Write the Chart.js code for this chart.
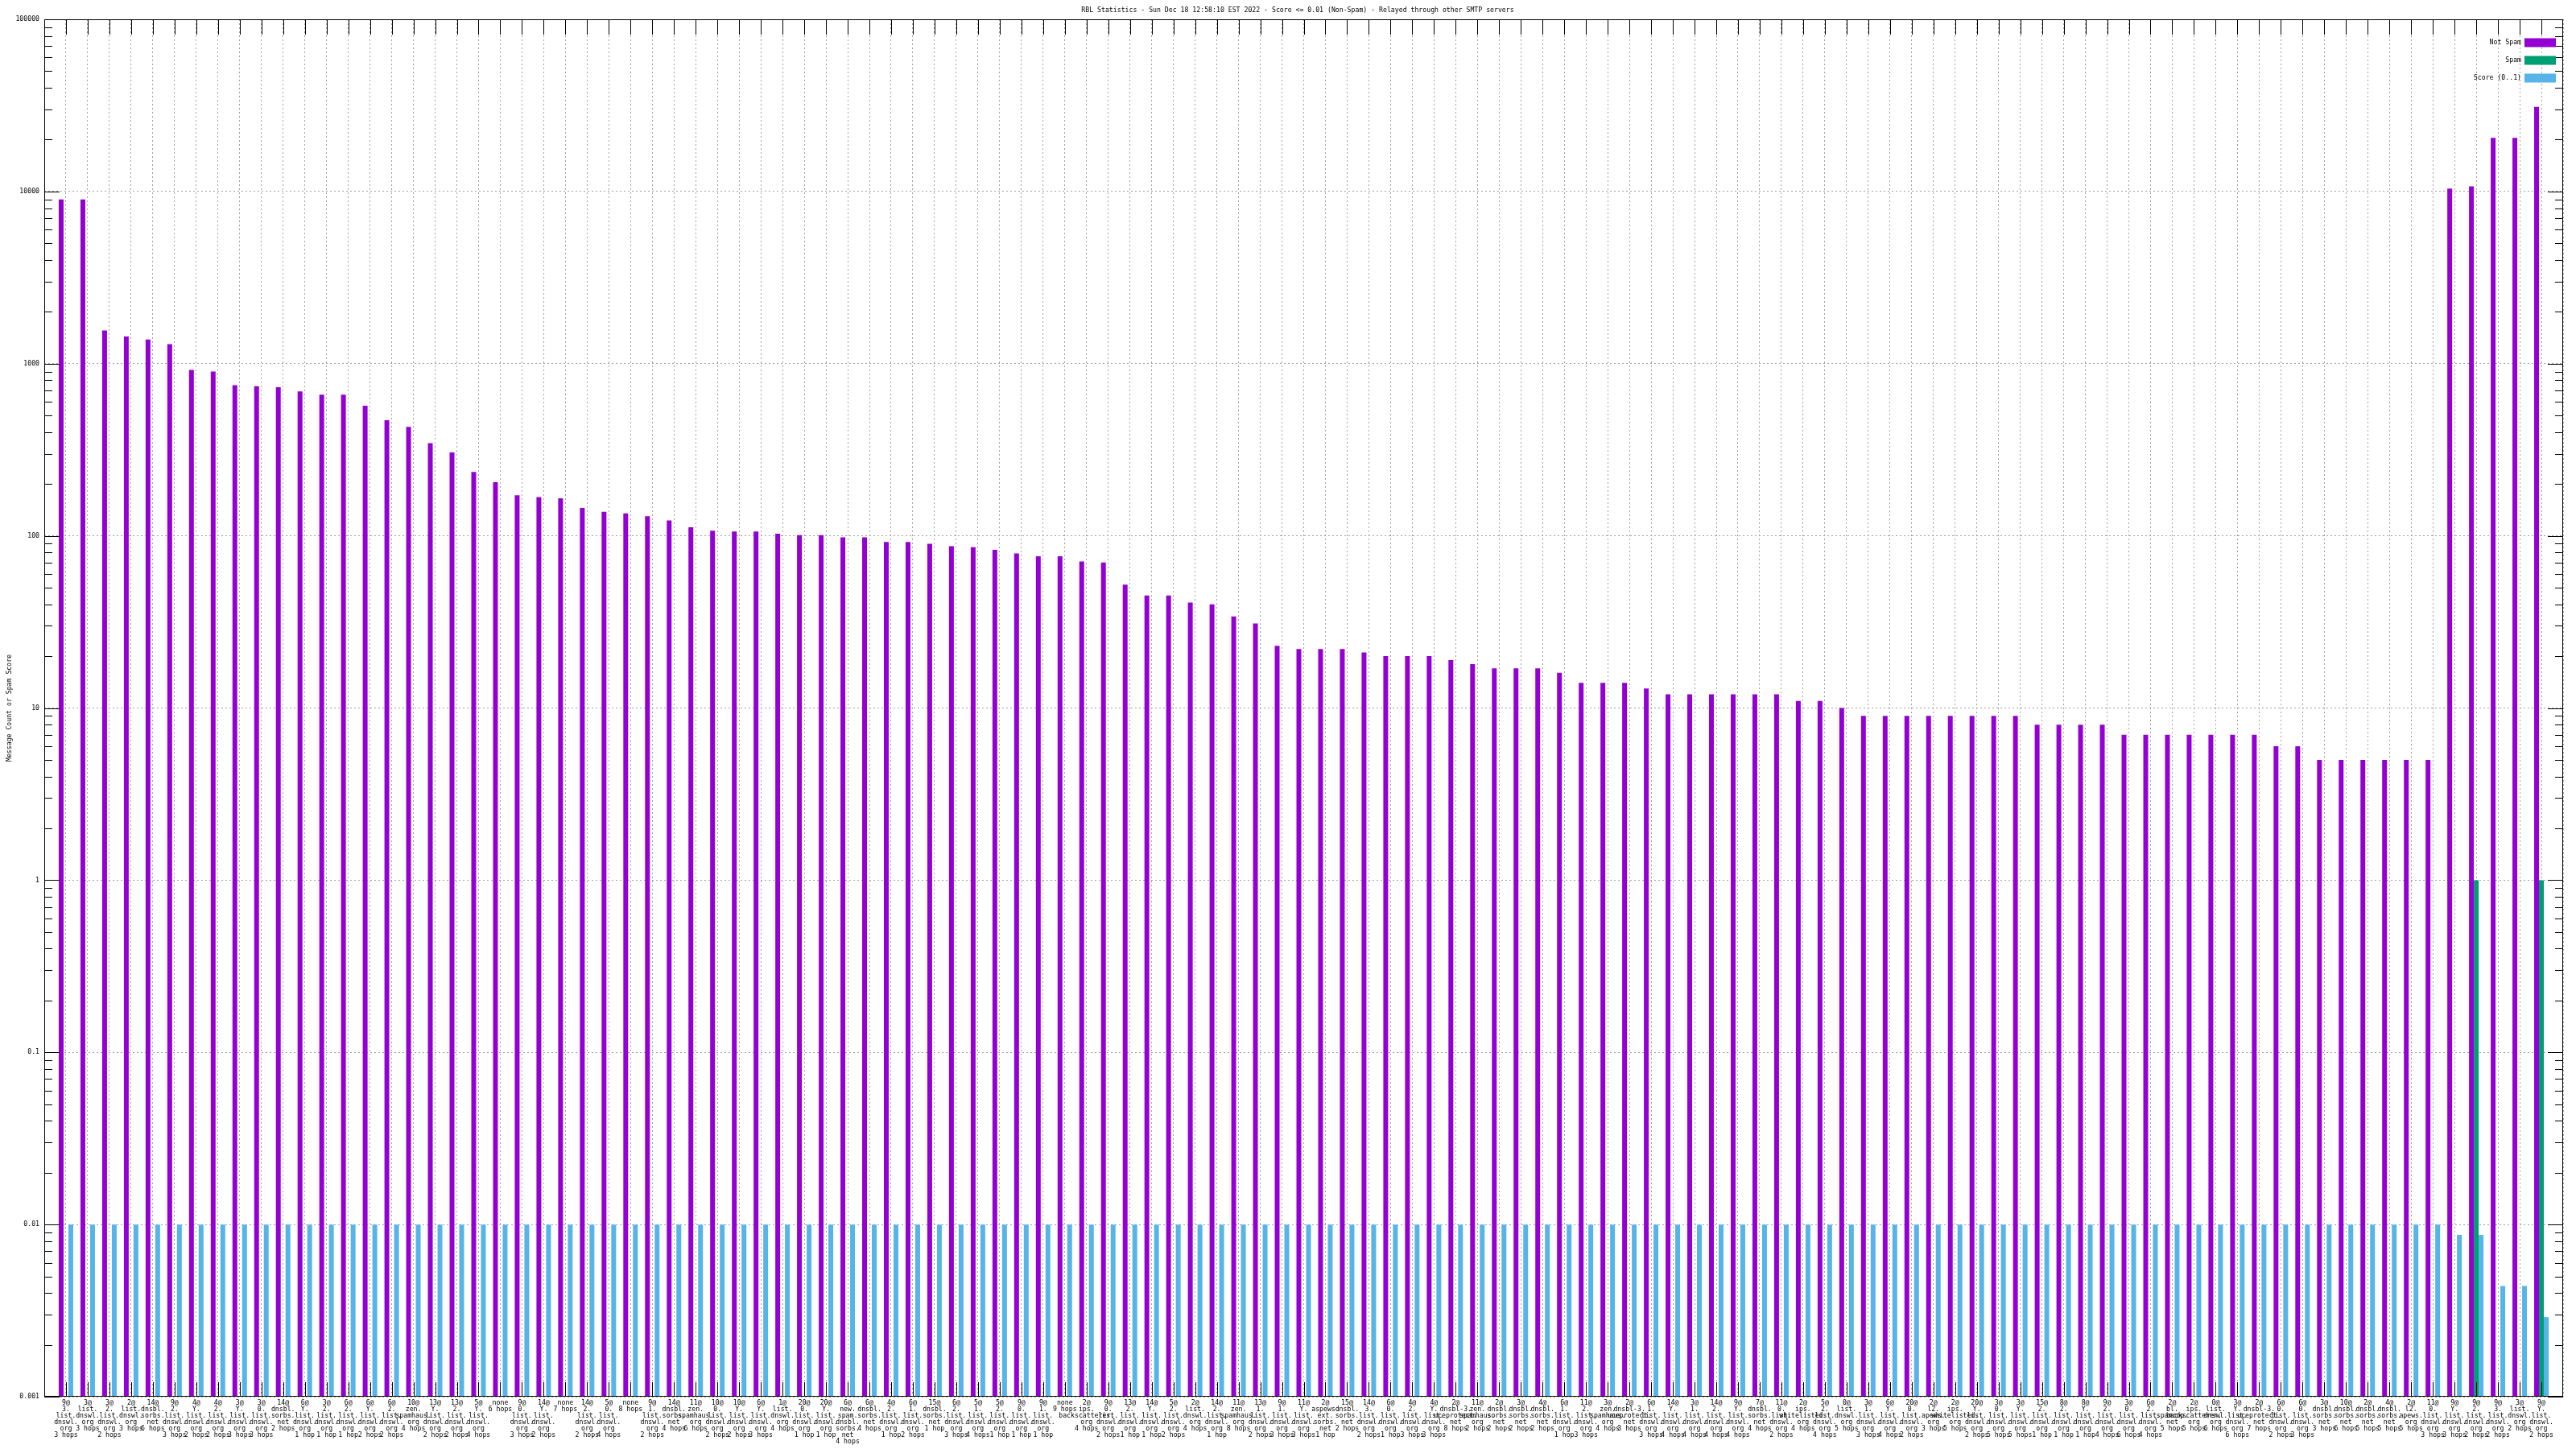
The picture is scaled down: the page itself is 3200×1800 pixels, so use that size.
<!DOCTYPE html>
<html>
<head>
<meta charset="utf-8">
<script src="https://cdn.jsdelivr.net/npm/chart.js@4.4.1/dist/chart.umd.min.js"></script>
<style>html,body{margin:0;padding:0;background:#fff;}canvas{display:block;}</style>
</head>
<body>
<canvas id="c" width="3200" height="1800"></canvas>
<script>
const titleText = "RBL Statistics - Sun Dec 18 12:58:10 EST 2022 - Score <= 0.01 (Non-Spam) - Relayed through other SMTP servers";
const yAxisTitle = "Message Count or Spam Score";
const seriesNames = ["Not Spam", "Spam", "Score (0..1)"];
const seriesColors = ["#9400d3", "#009e73", "#56b4e9"];
const yTickValues = [0.001, 0.01, 0.1, 1, 10, 100, 1000, 10000, 100000];

const categories = [
  ["9@","3.","list.","dnswl.","org","3 hops"],
  ["3@","list.","dnswl.","org","3 hops"],
  ["3@","2.","list.","dnswl.","org","2 hops"],
  ["2@","list.","dnswl.","org","3 hops"],
  ["14@","dnsbl.","sorbs.","net","6 hops"],
  ["9@","2.","list.","dnswl.","org","3 hops"],
  ["4@","Y.","list.","dnswl.","org","2 hops"],
  ["4@","2.","list.","dnswl.","org","2 hops"],
  ["3@","Y.","list.","dnswl.","org","3 hops"],
  ["3@","0.","list.","dnswl.","org","3 hops"],
  ["14@","dnsbl.","sorbs.","net","2 hops"],
  ["6@","Y.","list.","dnswl.","org","1 hop"],
  ["3@","2.","list.","dnswl.","org","1 hop"],
  ["6@","2.","list.","dnswl.","org","1 hop"],
  ["6@","Y.","list.","dnswl.","org","2 hops"],
  ["6@","2.","list.","dnswl.","org","2 hops"],
  ["10@","zen.","spamhaus.","org","4 hops"],
  ["13@","Y.","list.","dnswl.","org","2 hops"],
  ["13@","2.","list.","dnswl.","org","2 hops"],
  ["5@","Y.","list.","dnswl.","org","4 hops"],
  ["none","6 hops"],
  ["9@","0.","list.","dnswl.","org","3 hops"],
  ["14@","Y.","list.","dnswl.","org","2 hops"],
  ["none","7 hops"],
  ["14@","2.","list.","dnswl.","org","2 hops"],
  ["5@","0.","list.","dnswl.","org","4 hops"],
  ["none","8 hops"],
  ["9@","1.","list.","dnswl.","org","2 hops"],
  ["14@","dnsbl.","sorbs.","net","4 hops"],
  ["11@","zen.","spamhaus.","org","6 hops"],
  ["10@","0.","list.","dnswl.","org","2 hops"],
  ["10@","Y.","list.","dnswl.","org","2 hops"],
  ["6@","Y.","list.","dnswl.","org","3 hops"],
  ["1@","list.","dnswl.","org","4 hops"],
  ["20@","0.","list.","dnswl.","org","1 hop"],
  ["20@","Y.","list.","dnswl.","org","1 hop"],
  ["6@","new.","spam.","dnsbl.","sorbs.","net","4 hops"],
  ["6@","dnsbl.","sorbs.","net","4 hops"],
  ["4@","2.","list.","dnswl.","org","1 hop"],
  ["6@","1.","list.","dnswl.","org","2 hops"],
  ["15@","dnsbl.","sorbs.","net","1 hop"],
  ["6@","2.","list.","dnswl.","org","3 hops"],
  ["5@","1.","list.","dnswl.","org","4 hops"],
  ["5@","2.","list.","dnswl.","org","1 hop"],
  ["9@","0.","list.","dnswl.","org","1 hop"],
  ["9@","1.","list.","dnswl.","org","1 hop"],
  ["none","9 hops"],
  ["2@","ips.","backscatterer.","org","4 hops"],
  ["9@","0.","list.","dnswl.","org","2 hops"],
  ["13@","2.","list.","dnswl.","org","1 hop"],
  ["14@","Y.","list.","dnswl.","org","1 hop"],
  ["5@","2.","list.","dnswl.","org","2 hops"],
  ["2@","list.","dnswl.","org","4 hops"],
  ["14@","2.","list.","dnswl.","org","1 hop"],
  ["11@","zen.","spamhaus.","org","8 hops"],
  ["13@","1.","list.","dnswl.","org","2 hops"],
  ["9@","1.","list.","dnswl.","org","3 hops"],
  ["11@","Y.","list.","dnswl.","org","3 hops"],
  ["2@","aspews.","ext.","sorbs.","net","1 hop"],
  ["15@","dnsbl.","sorbs.","net","2 hops"],
  ["14@","3.","list.","dnswl.","org","2 hops"],
  ["6@","0.","list.","dnswl.","org","1 hop"],
  ["4@","2.","list.","dnswl.","org","3 hops"],
  ["4@","Y.","list.","dnswl.","org","3 hops"],
  ["2@","dnsbl-3.","uceprotect.","net","8 hops"],
  ["11@","zen.","spamhaus.","org","2 hops"],
  ["2@","dnsbl.","sorbs.","net","2 hops"],
  ["3@","dnsbl.","sorbs.","net","2 hops"],
  ["4@","dnsbl.","sorbs.","net","2 hops"],
  ["6@","1.","list.","dnswl.","org","1 hop"],
  ["11@","2.","list.","dnswl.","org","3 hops"],
  ["3@","zen.","spamhaus.","org","4 hops"],
  ["2@","dnsbl-3.","uceprotect.","net","3 hops"],
  ["6@","1.","list.","dnswl.","org","3 hops"],
  ["14@","Y.","list.","dnswl.","org","4 hops"],
  ["3@","1.","list.","dnswl.","org","4 hops"],
  ["14@","2.","list.","dnswl.","org","4 hops"],
  ["9@","Y.","list.","dnswl.","org","4 hops"],
  ["7@","dnsbl.","sorbs.","net","4 hops"],
  ["11@","0.","list.","dnswl.","org","2 hops"],
  ["2@","ips.","whitelisted.","org","4 hops"],
  ["5@","2.","list.","dnswl.","org","4 hops"],
  ["0@","list.","dnswl.","org","5 hops"],
  ["3@","1.","list.","dnswl.","org","3 hops"],
  ["6@","Y.","list.","dnswl.","org","4 hops"],
  ["20@","0.","list.","dnswl.","org","2 hops"],
  ["2@","l2.","apews.","org","3 hops"],
  ["2@","ips.","whitelisted.","org","5 hops"],
  ["20@","Y.","list.","dnswl.","org","2 hops"],
  ["3@","0.","list.","dnswl.","org","5 hops"],
  ["3@","Y.","list.","dnswl.","org","5 hops"],
  ["15@","2.","list.","dnswl.","org","1 hop"],
  ["8@","2.","list.","dnswl.","org","1 hop"],
  ["8@","Y.","list.","dnswl.","org","1 hop"],
  ["9@","2.","list.","dnswl.","org","4 hops"],
  ["3@","0.","list.","dnswl.","org","6 hops"],
  ["6@","2.","list.","dnswl.","org","4 hops"],
  ["2@","bl.","spamcop.","net","5 hops"],
  ["2@","ips.","backscatterer.","org","5 hops"],
  ["0@","list.","dnswl.","org","6 hops"],
  ["3@","Y.","list.","dnswl.","org","6 hops"],
  ["2@","dnsbl-3.","uceprotect.","net","7 hops"],
  ["6@","0.","list.","dnswl.","org","2 hops"],
  ["6@","0.","list.","dnswl.","org","3 hops"],
  ["3@","dnsbl.","sorbs.","net","3 hops"],
  ["10@","dnsbl.","sorbs.","net","6 hops"],
  ["2@","dnsbl.","sorbs.","net","5 hops"],
  ["4@","dnsbl.","sorbs.","net","5 hops"],
  ["2@","l2.","apews.","org","5 hops"],
  ["11@","0.","list.","dnswl.","org","3 hops"],
  ["9@","Y.","list.","dnswl.","org","3 hops"],
  ["9@","2.","list.","dnswl.","org","2 hops"],
  ["9@","3.","list.","dnswl.","org","2 hops"],
  ["3@","list.","dnswl.","org","2 hops"],
  ["9@","Y.","list.","dnswl.","org","2 hops"]
];

const notSpam = [
  9000, 9000, 1560, 1440, 1380, 1300, 920, 900, 750, 740,
  730, 690, 660, 660, 570, 470, 430, 345, 305, 235,
  205, 172, 168, 165, 145, 138, 135, 130, 123, 112,
  107, 106, 106, 103, 101, 101, 98, 98, 92, 92,
  90, 87, 86, 83, 79, 76, 76, 71, 70, 52,
  45, 45, 41, 40, 34, 31, 23, 22, 22, 22,
  21, 20, 20, 20, 19, 18, 17, 17, 17, 16,
  14, 14, 14, 13, 12, 12, 12, 12, 12, 12,
  11, 11, 10, 9, 9, 9, 9, 9, 9, 9,
  9, 8, 8, 8, 8, 7, 7, 7, 7, 7,
  7, 7, 6, 6, 5, 5, 5, 5, 5, 5,
  10400, 10700, 20500, 20500, 31000
];

const spam = [
  0, 0, 0, 0, 0, 0, 0, 0, 0, 0,
  0, 0, 0, 0, 0, 0, 0, 0, 0, 0,
  0, 0, 0, 0, 0, 0, 0, 0, 0, 0,
  0, 0, 0, 0, 0, 0, 0, 0, 0, 0,
  0, 0, 0, 0, 0, 0, 0, 0, 0, 0,
  0, 0, 0, 0, 0, 0, 0, 0, 0, 0,
  0, 0, 0, 0, 0, 0, 0, 0, 0, 0,
  0, 0, 0, 0, 0, 0, 0, 0, 0, 0,
  0, 0, 0, 0, 0, 0, 0, 0, 0, 0,
  0, 0, 0, 0, 0, 0, 0, 0, 0, 0,
  0, 0, 0, 0, 0, 0, 0, 0, 0, 0,
  0, 1, 0, 0, 1
];

const score = [
  0.01, 0.01, 0.01, 0.01, 0.01, 0.01, 0.01, 0.01, 0.01, 0.01,
  0.01, 0.01, 0.01, 0.01, 0.01, 0.01, 0.01, 0.01, 0.01, 0.01,
  0.01, 0.01, 0.01, 0.01, 0.01, 0.01, 0.01, 0.01, 0.01, 0.01,
  0.01, 0.01, 0.01, 0.01, 0.01, 0.01, 0.01, 0.01, 0.01, 0.01,
  0.01, 0.01, 0.01, 0.01, 0.01, 0.01, 0.01, 0.01, 0.01, 0.01,
  0.01, 0.01, 0.01, 0.01, 0.01, 0.01, 0.01, 0.01, 0.01, 0.01,
  0.01, 0.01, 0.01, 0.01, 0.01, 0.01, 0.01, 0.01, 0.01, 0.01,
  0.01, 0.01, 0.01, 0.01, 0.01, 0.01, 0.01, 0.01, 0.01, 0.01,
  0.01, 0.01, 0.01, 0.01, 0.01, 0.01, 0.01, 0.01, 0.01, 0.01,
  0.01, 0.01, 0.01, 0.01, 0.01, 0.01, 0.01, 0.01, 0.01, 0.01,
  0.01, 0.01, 0.01, 0.01, 0.01, 0.01, 0.01, 0.01, 0.01, 0.01,
  0.0087, 0.0087, 0.0044, 0.0044, 0.0029
];

const FONT = "'DejaVu Sans Mono', 'Liberation Mono', monospace";
const FSIZE = 8.2;

// one empty slot on each side, as in the reference x range [-1 : n]
const xLabels = [''].concat(categories, ['']);
const pad = arr => [null].concat(arr, [null]);

const framePlugin = {
  id: 'gnuplotFrame',
  afterDraw(chart) {
    const ctx = chart.ctx;
    const {left, right, top, bottom} = chart.chartArea;
    const xs = chart.scales.x, ys = chart.scales.y;
    ctx.save();
    ctx.strokeStyle = '#000';
    ctx.lineWidth = 1;
    ctx.setLineDash([]);
    ctx.beginPath();
    // x tick marks (bottom and top, pointing inward)
    categories.forEach((c, i) => {
      const px = Math.round(xs.getPixelForValue(i + 1)) + 0.5;
      ctx.moveTo(px, bottom); ctx.lineTo(px, bottom - 18);
      ctx.moveTo(px, top); ctx.lineTo(px, top + 19);
    });
    // y tick marks, major and minor, on both sides
    for (let d = -3; d <= 5; d++) {
      const base = Math.pow(10, d);
      for (let m = 1; m <= 9; m++) {
        const v = m * base;
        if (v < 0.001 - 1e-12 || v > 100000 + 1e-6) continue;
        const py = Math.round(ys.getPixelForValue(v)) + 0.5;
        const len = m === 1 ? 19 : 10;
        ctx.moveTo(left, py); ctx.lineTo(left + len, py);
        ctx.moveTo(right, py); ctx.lineTo(right - len, py);
      }
    }
    ctx.stroke();
    ctx.strokeRect(left + 0.5, top + 0.5, right - left - 1, bottom - top - 1);

    // title
    ctx.fillStyle = '#000';
    ctx.font = FSIZE + 'px ' + FONT;
    ctx.textAlign = 'center';
    ctx.textBaseline = 'middle';
    ctx.fillText(titleText, 1612, 13);

    // key (inside, top right)
    ctx.textAlign = 'right';
    chart.data.datasets.forEach((ds, k) => {
      const cy = top + 29 + k * 22;
      ctx.fillStyle = '#000';
      ctx.fillText(ds.label, right - 52, cy);
      ctx.fillStyle = ds.backgroundColor;
      ctx.fillRect(right - 48, cy - 5.5, 39, 11);
    });
    ctx.restore();
  }
};

new Chart(document.getElementById('c'), {
  type: 'bar',
  data: {
    labels: xLabels,
    datasets: [
      {label: seriesNames[0], data: pad(notSpam), backgroundColor: seriesColors[0]},
      {label: seriesNames[1], data: pad(spam), backgroundColor: seriesColors[1]},
      {label: seriesNames[2], data: pad(score), backgroundColor: seriesColors[2]}
    ]
  },
  options: {
    responsive: false,
    animation: false,
    devicePixelRatio: 1,
    layout: {padding: {top: 24, right: 16, left: 0, bottom: 0}},
    plugins: {
      legend: {display: false},
      title: {display: false},
      tooltip: {enabled: false}
    },
    datasets: {bar: {categoryPercentage: 0.667, barPercentage: 1, borderWidth: 0}},
    scales: {
      x: {
        type: 'category',
        offset: false,
        grid: {display: true, offset: false, color: '#a0a0a0', lineWidth: 1, drawTicks: false},
        border: {display: false, dash: [2, 3]},
        ticks: {
          autoSkip: false, maxRotation: 0, minRotation: 0, padding: 4, color: '#000',
          font: {family: FONT, size: FSIZE, lineHeight: '8px'}
        },
        afterFit(s) { s.height = 65; }
      },
      y: {
        type: 'logarithmic',
        min: 0.001,
        max: 100000,
        grid: {color: '#a0a0a0', lineWidth: 1, drawTicks: false},
        border: {display: false, dash: [2, 3]},
        ticks: {
          padding: 6, color: '#000', autoSkip: false,
          font: {family: FONT, size: FSIZE},
          callback: v => (yTickValues.indexOf(v) >= 0 ? String(v) : '')
        },
        afterBuildTicks(s) { s.ticks = yTickValues.map(v => ({value: v})); },
        afterFit(s) { s.width = 55; },
        title: {
          display: true, text: yAxisTitle, color: '#000',
          font: {family: FONT, size: FSIZE}, padding: {top: 7, bottom: 0}
        }
      }
    }
  },
  plugins: [framePlugin]
});
</script>
</body>
</html>
